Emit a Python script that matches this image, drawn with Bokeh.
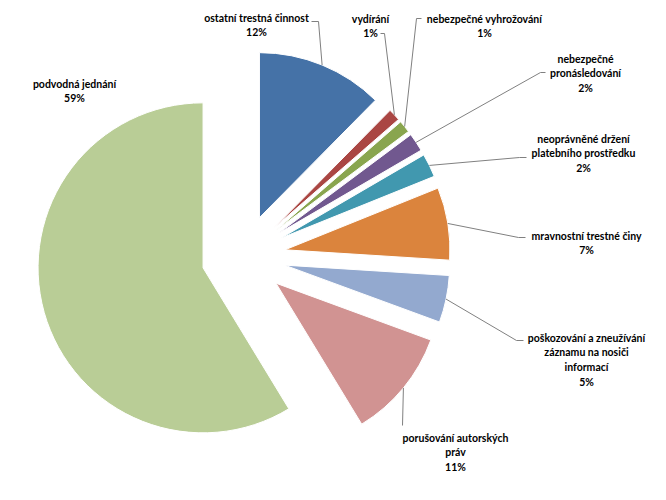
import math
from bokeh.plotting import figure
from bokeh.models import Range1d
from bokeh.core.properties import value
from bokeh.embed import file_html
from bokeh.resources import INLINE

# ---- data ----
categories = [
    "ostatní trestná činnost",
    "vydírání",
    "nebezpečné vyhrožování",
    "nebezpečné pronásledování",
    "neoprávněné držení platebního prostředku",
    "mravnostní trestné činy",
    "poškozování a zneužívání záznamu na nosiči informací",
    "porušování autorských práv",
    "podvodná jednání",
]
shares = [12.4, 1.2, 1.2, 1.8, 2.3, 7.1, 4.6, 10.7, 58.7]
label_lines = [
    ["ostatní trestná činnost"],
    ["vydírání"],
    ["nebezpečné vyhrožování"],
    ["nebezpečné", "pronásledování"],
    ["neoprávněné držení", "platebního prostředku"],
    ["mravnostní trestné činy"],
    ["poškozování a zneužívání", "záznamu na nosiči", "informací"],
    ["porušování autorských", "práv"],
    ["podvodná jednání"],
]
colors = ["#4572A7", "#AA4643", "#89A54E", "#71588F", "#4198AF",
          "#DB843D", "#93A9CF", "#D19392", "#B9CD96"]

# ---- layout (screen pixel coords of the 666x500 page) ----
W, H = 650, 484
CX, CY = 243, 256
R = 165
EXPLODE = 42
FONT = "Lato"
FS = 10.5
LINE_H = 14.8
# label centre x, first-line y, leader elbow, leader end (None = no leader)
label_pos = [
    (256, 17, (318, 21), (311, 21)),
    (370, 18, (384, 33), (380, 33)),
    (484, 18, (416, 18), (421, 18)),
    (585, 58, (540, 72), (545, 72)),
    (583, 138, (519, 157), (526, 157)),
    (586, 235, (518, 237), (525, 237)),
    (586, 337, (516, 340), (523, 340)),
    (455, 437, (402, 425), (402, 425)),
    (74, 83, None, None),
]


def Y(ys):
    return 500 - ys


p = figure(width=W, height=H, output_backend="svg", toolbar_location=None,
           x_range=Range1d(0, W), y_range=Range1d(500 - H, 500),
           min_border=0)
p.axis.visible = False
p.grid.visible = False
p.outline_line_color = None
p.background_fill_color = "white"
p.border_fill_color = "white"

total = sum(shares)
cum = 0.0
for i, s in enumerate(shares):
    t1 = cum / total * 2 * math.pi
    cum += s
    t2 = cum / total * 2 * math.pi
    mid = (t1 + t2) / 2
    ox = CX + EXPLODE * math.sin(mid)
    oy = Y(CY) + EXPLODE * math.cos(mid)
    p.wedge(x=[ox], y=[oy], radius=R,
            start_angle=[math.pi / 2 - t2], end_angle=[math.pi / 2 - t1],
            direction="anticlock", fill_color=colors[i],
            line_color="white", line_width=1)

    cx, y0, elbow, end = label_pos[i]
    lines = label_lines[i] + [f"{round(s / total * 100)}%"]
    for j, ln in enumerate(lines):
        p.text(x=[cx], y=[Y(y0 + j * LINE_H)], text=[ln],
               text_font=value(FONT), text_font_size=f"{FS}px",
               text_font_style="bold", text_color="#000000",
               text_align="center", text_baseline="middle")
    if elbow is not None:
        ax = ox + R * math.sin(mid)
        ay = oy + R * math.cos(mid)
        p.line(x=[ax, elbow[0], end[0]], y=[ay, Y(elbow[1]), Y(end[1])],
               line_color="#808080", line_width=1)

open("out.html", "w").write(file_html(p, INLINE))
